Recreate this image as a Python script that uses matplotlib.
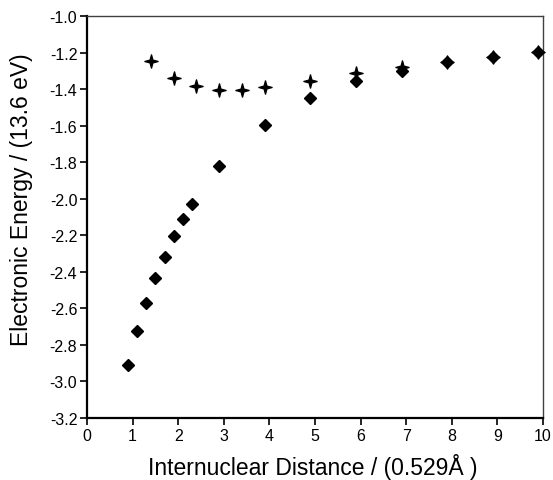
import matplotlib
matplotlib.use("Agg")
import matplotlib.pyplot as plt
from matplotlib.path import Path
import numpy as np

# Data
diamond_x = [0.9, 1.1, 1.3, 1.5, 1.7, 1.9, 2.1, 2.3, 2.9, 3.9, 4.9, 5.9, 6.9, 7.9, 8.9, 9.9]
diamond_y = [-2.91, -2.726, -2.573, -2.434, -2.317, -2.206, -2.113, -2.029, -1.823,
             -1.595, -1.451, -1.354, -1.301, -1.253, -1.224, -1.199]
star_x = [1.4, 1.9, 2.4, 2.9, 3.4, 3.9, 4.9, 5.9, 6.9, 7.9, 8.9, 9.9]
star_y = [-1.246, -1.338, -1.385, -1.403, -1.403, -1.39, -1.354, -1.312, -1.279,
          -1.25, -1.222, -1.197]
x_ticks = list(range(0, 11))
y_ticks = [-3.2, -3.0, -2.8, -2.6, -2.4, -2.2, -2.0, -1.8, -1.6, -1.4, -1.2, -1.0]

plt.rcParams['font.family'] = ['Liberation Sans', 'DejaVu Sans']

# thin four-pointed star marker shape
ang = np.arange(8) * np.pi / 4 + np.pi / 2
rad = np.where(np.arange(8) % 2 == 0, 1.0, 0.3)
verts = np.column_stack([rad * np.cos(ang), rad * np.sin(ang)])
verts = np.vstack([verts, verts[:1]])
codes = [Path.MOVETO] + [Path.LINETO] * 7 + [Path.CLOSEPOLY]
star_marker = Path(verts, codes)

fig = plt.figure(figsize=(5.53, 4.81), dpi=100)
ax = fig.add_axes([87/553, 1 - 419/481, (543-87)/553, (419-17)/481])

ax.plot(star_x, star_y, linestyle='none', marker=star_marker, markersize=9.5,
        color='black', clip_on=False, zorder=3)
ax.plot(diamond_x, diamond_y, linestyle='none', marker='D', markersize=6.2,
        color='black', clip_on=False, zorder=4)

ax.set_xlim(0, 10)
ax.set_ylim(-3.2, -1.0)
ax.set_xticks(x_ticks)
ax.set_xticklabels([str(v) for v in x_ticks])
ax.set_yticks(y_ticks)
ax.set_yticklabels([f"{v:.1f}" for v in y_ticks])

for s in ['left', 'bottom']:
    ax.spines[s].set_linewidth(1.6)
    ax.spines[s].set_color('black')
for s in ['top', 'right']:
    ax.spines[s].set_linewidth(1.0)
    ax.spines[s].set_color('#404040')

ax.tick_params(direction='out', length=5, width=1.2, labelsize=11.5, pad=2, color='black')

fig.text(313/553, 1 - 467/481, 'Internuclear Distance / (0.529Å )', fontsize=16.5,
         ha='center', va='center')
fig.text(22/553, 1 - 200/481, 'Electronic Energy / (13.6 eV)', fontsize=16.5,
         ha='center', va='center', rotation=90)

fig.savefig('out.png', dpi=100)
